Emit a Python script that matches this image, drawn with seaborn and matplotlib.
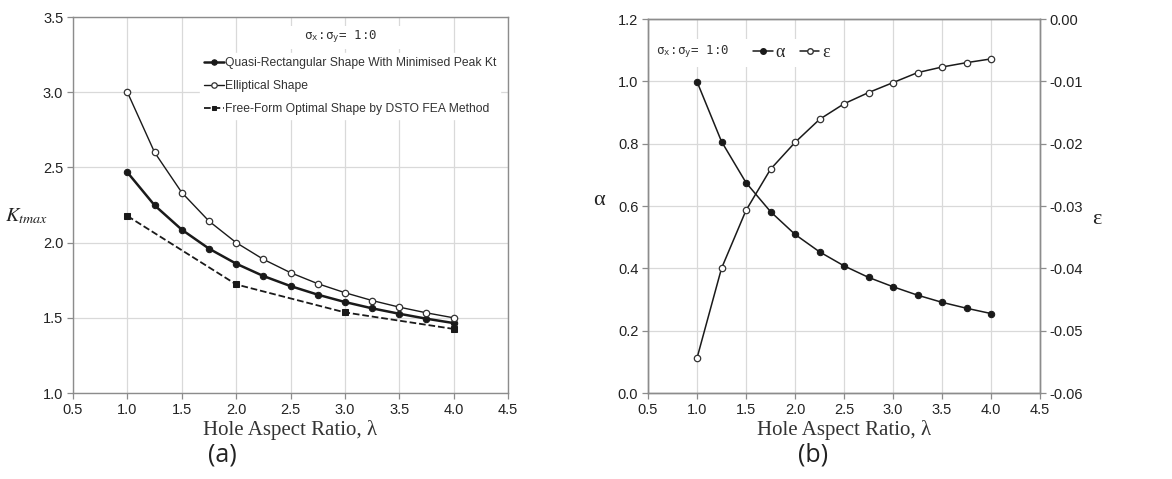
import numpy as np
import pandas as pd
import matplotlib
matplotlib.use("Agg")
import matplotlib.pyplot as plt
import seaborn as sns
from matplotlib.lines import Line2D

# ---------------- data ----------------
lam = [1.0, 1.25, 1.5, 1.75, 2.0, 2.25, 2.5, 2.75, 3.0, 3.25, 3.5, 3.75, 4.0]
kt_quasi = [2.467, 2.248, 2.086, 1.960, 1.860, 1.778, 1.711, 1.654, 1.605, 1.563, 1.527, 1.494, 1.465]
kt_ellip = [3.000, 2.600, 2.333, 2.143, 2.000, 1.889, 1.800, 1.727, 1.667, 1.615, 1.571, 1.533, 1.500]
lam_ff = [1.0, 2.0, 3.0, 4.0]
kt_ff = [2.177, 1.722, 1.536, 1.426]

alpha_vals = [0.999, 0.807, 0.675, 0.582, 0.509, 0.453, 0.408, 0.371, 0.341, 0.314, 0.291, 0.272, 0.255]
eps_vals = [-0.0544, -0.0400, -0.0307, -0.0241, -0.0198, -0.0161, -0.0136, -0.0118, -0.0102,
            -0.0086, -0.0077, -0.0070, -0.0064]

x_ticks = [0.5, 1.0, 1.5, 2.0, 2.5, 3.0, 3.5, 4.0, 4.5]
kt_ticks = [1.0, 1.5, 2.0, 2.5, 3.0, 3.5]
alpha_ticks = [0.0, 0.2, 0.4, 0.6, 0.8, 1.0, 1.2]
eps_ticks = [-0.06, -0.05, -0.04, -0.03, -0.02, -0.01, 0.0]
eps_tick_labels = ["-0.06", "-0.05", "-0.04", "-0.03", "-0.02", "-0.01", "0.00"]

labels_a = ["Quasi-Rectangular Shape With Minimised Peak Kt", "Elliptical Shape",
            "Free-Form Optimal Shape by DSTO FEA Method"]
ratio_text = r"σ$_\mathregular{x}$:σ$_\mathregular{y}$= 1:0"

# ---------------- style ----------------
sns.set_theme(style="white")
plt.rcParams["font.family"] = ["Liberation Sans", "DejaVu Sans"]
plt.rcParams["mathtext.fontset"] = "stix"

SERIF = ["Liberation Serif", "DejaVu Serif"]
MONO = ["DejaVu Sans Mono"]
GRID = "#d9d9d9"
SPINE = "#8c8c8c"
LINE = "#1a1a1a"
MS = 4.6

fig = plt.figure(figsize=(11.72, 4.79), dpi=100)
axA = fig.add_axes([0.0623, 0.1795, 0.3712, 0.785])
axB = fig.add_axes([0.5529, 0.1795, 0.3345, 0.7808])


def style_axes(ax):
    ax.set_xlim(0.5, 4.5)
    ax.set_xticks(x_ticks)
    ax.set_xticklabels([f"{v:.1f}" for v in x_ticks])
    ax.grid(True, color=GRID, linewidth=0.9)
    ax.set_axisbelow(True)
    for s in ax.spines.values():
        s.set_color(SPINE)
        s.set_linewidth(1.0)
    ax.tick_params(axis="both", which="both", direction="out", length=4, width=0.9,
                   color=SPINE, labelsize=10.5, labelcolor="#222222", pad=3)
    ax.tick_params(axis="y", left=True)
    ax.tick_params(axis="x", bottom=True)
    ax.set_xlabel("Hole Aspect Ratio, λ", family=SERIF, fontsize=15, color="#333333", labelpad=2)


# ---------------- panel (a) ----------------
sns.lineplot(x=lam, y=kt_quasi, ax=axA, color=LINE, linewidth=1.8, marker="o",
             markersize=MS, markerfacecolor=LINE, markeredgecolor=LINE, label=labels_a[0])
sns.lineplot(x=lam, y=kt_ellip, ax=axA, color=LINE, linewidth=1.0, marker="o",
             markersize=MS, markerfacecolor="white", markeredgecolor="#333333",
             markeredgewidth=0.9, label=labels_a[1])
sns.lineplot(x=lam_ff, y=kt_ff, ax=axA, color=LINE, linewidth=1.3, linestyle="--", marker="s",
             markersize=4.0, markerfacecolor=LINE, markeredgecolor=LINE, label=labels_a[2])
style_axes(axA)
axA.set_ylim(1.0, 3.5)
axA.set_yticks(kt_ticks)
axA.set_yticklabels([f"{v:.1f}" for v in kt_ticks])
axA.set_ylabel(r"$K_{tmax}$", fontsize=14.5, rotation=0, color="#222222")
axA.yaxis.set_label_coords(-0.108, 0.445)

# title box + legend box (white, covering the grid)
axA.add_patch(plt.Rectangle((2.2, 3.29), 1.55, 0.15, facecolor="white", edgecolor="none",
                            zorder=1.5))
axA.text(2.96, 3.367, ratio_text, family=MONO, fontsize=9, color="#333333",
         ha="center", va="center", zorder=3)
legA = axA.legend(loc="upper left", bbox_to_anchor=(0.293, 0.903), frameon=True,
                  facecolor="white", edgecolor="white", framealpha=1.0, fontsize=8.7,
                  handlelength=1.65, handletextpad=0.1, labelspacing=0.92, borderpad=0.3,
                  borderaxespad=0.0, markerscale=0.85)
legA.set_zorder(2.2)
for t in legA.get_texts():
    t.set_color("#333333")

fig.text(0.19, 0.05, "(a)", fontsize=18, family=["Open Sans", "DejaVu Sans"],
         color="#222222", ha="center", va="center")

# ---------------- panel (b) ----------------
sns.lineplot(x=lam, y=alpha_vals, ax=axB, color=LINE, linewidth=1.1, marker="o",
             markersize=MS, markerfacecolor=LINE, markeredgecolor=LINE, legend=False)
style_axes(axB)
axB.set_ylim(0.0, 1.2)
axB.set_yticks(alpha_ticks)
axB.set_yticklabels([f"{v:.1f}" for v in alpha_ticks])
axB.set_ylabel("α", family=SERIF, fontsize=16, rotation=0, color="#222222")
axB.yaxis.set_label_coords(-0.125, 0.49)

axE = axB.twinx()
sns.lineplot(x=lam, y=eps_vals, ax=axE, color=LINE, linewidth=1.1, marker="o",
             markersize=MS, markerfacecolor="white", markeredgecolor="#333333",
             markeredgewidth=0.9, legend=False)
axE.set_ylim(-0.06, 0.0)
axE.set_yticks(eps_ticks)
axE.set_yticklabels(eps_tick_labels)
axE.grid(False)
for s in axE.spines.values():
    s.set_color(SPINE)
    s.set_linewidth(1.0)
axE.tick_params(axis="y", right=True, direction="out", length=4, width=0.9, color=SPINE,
                labelsize=10.5, labelcolor="#222222", pad=3)
axE.set_ylabel("ε", family=SERIF, fontsize=16, rotation=0, color="#222222")
axE.yaxis.set_label_coords(1.145, 0.49)

# white patch behind the legend row (covers grid)
axB.add_patch(plt.Rectangle((0.503, 1.045), 1.8, 0.09, facecolor="white", edgecolor="none",
                            zorder=1.5))
axB.text(0.58, 1.094, ratio_text, family=MONO, fontsize=9, color="#333333",
         ha="left", va="center", zorder=3)
hB = [Line2D([], [], color=LINE, linewidth=1.1, marker="o", markersize=4,
             markerfacecolor=LINE, markeredgecolor=LINE),
      Line2D([], [], color=LINE, linewidth=1.1, marker="o", markersize=4,
             markerfacecolor="white", markeredgecolor="#333333")]
legB = axE.legend(hB, ["α", "ε"], loc="center left", bbox_to_anchor=(0.25, 0.91), ncol=2,
                  frameon=False, prop={"family": SERIF, "size": 13}, handlelength=1.1,
                  handletextpad=0.15, columnspacing=0.8, borderaxespad=0.0)

fig.text(0.694, 0.05, "(b)", fontsize=18, family=["Open Sans", "DejaVu Sans"],
         color="#222222", ha="center", va="center")

fig.savefig("out.png", dpi=100, facecolor="white")
